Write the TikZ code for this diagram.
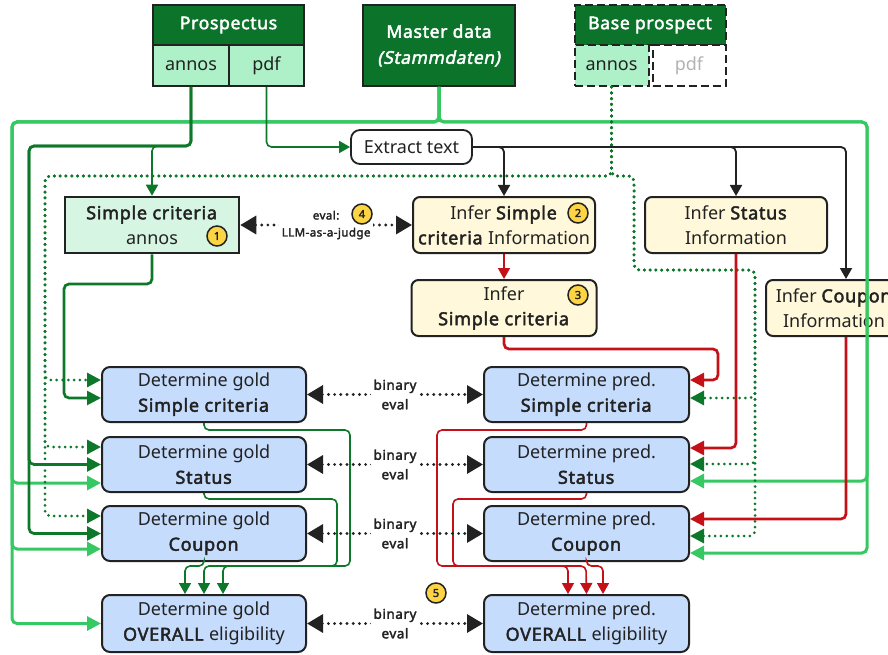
\documentclass[tikz,border=0pt]{standalone}
\usepackage{fontspec}
\setmainfont{Noto Sans}[BoldFont={Noto Sans}, BoldFeatures={FakeBold=2.4, LetterSpace=4}, BoldItalicFont={Noto Sans}, BoldItalicFeatures={FakeBold=2.4, FakeSlant=0.2, LetterSpace=3}]
\usepackage{tikz}
\usetikzlibrary{arrows.meta, calc, positioning}
\definecolor{hdgreen}{RGB}{11,115,42}
\definecolor{cellgreen}{RGB}{174,240,200}
\definecolor{annogreen}{RGB}{214,245,226}
\definecolor{infcream}{RGB}{255,248,218}
\definecolor{detblue}{RGB}{198,220,252}
\definecolor{lnred}{RGB}{196,16,22}
\definecolor{lngreen}{RGB}{14,120,42}
\definecolor{ltgreen}{RGB}{54,200,98}
\definecolor{badgeyel}{RGB}{252,212,68}
\definecolor{edge}{RGB}{34,34,34}
\tikzset{
	base/.style={draw=edge, line width=2pt, align=center, inner sep=0pt, text=edge, font=\fontsize{18}{25}\selectfont},
	hdbox/.style={base, fill=hdgreen, text=white, font=\fontsize{17.5}{26}\selectfont\bfseries},
	cellbox/.style={base, fill=cellgreen, minimum width=75.5pt, minimum height=41pt},
	infbox/.style={base, fill=infcream, rounded corners=7pt, minimum height=56pt},
	detbox/.style={base, fill=detblue, rounded corners=8pt, minimum width=204pt, minimum height=55pt},
	badge/.style={circle, draw=edge, line width=1.5pt, fill=badgeyel, minimum size=20pt, inner sep=0pt, text=edge, font=\fontsize{11}{11}\selectfont\bfseries},
	evlbl/.style={fill=white, align=center, inner xsep=3pt, inner ysep=1pt, text=edge, font=\fontsize{13.5}{19.5}\selectfont\bfseries},
	evline/.style={draw=edge, line width=3.2pt, dash pattern=on 0pt off 6.2pt, line cap=round, arrows={Triangle[length=16pt,width=18pt]-Triangle[length=16pt,width=18pt]}},
	dkline/.style={draw=lngreen, line width=2.7pt, rounded corners=5pt, arrows={-Triangle[length=14pt,width=14pt]}},
	ltline/.style={draw=ltgreen, line width=3pt, rounded corners=5pt, arrows={-Triangle[length=14pt,width=14pt]}},
	dtline/.style={draw=lngreen, line width=3pt, dash pattern=on 0pt off 5.8pt, line cap=round, rounded corners=5pt, arrows={-Triangle[length=14pt,width=14pt]}},
	rdline/.style={draw=lnred, line width=2.7pt, rounded corners=5pt, arrows={-Triangle[length=14pt,width=14pt]}},
	dkthin/.style={draw=lngreen, line width=1.6pt, rounded corners=5pt, arrows={-Triangle[length=11pt,width=12pt]}},
	rdthin/.style={draw=lnred, line width=1.6pt, rounded corners=5pt, arrows={-Triangle[length=11pt,width=12pt]}},
	bkline/.style={draw=edge, line width=1.8pt, rounded corners=5pt, arrows={-Triangle[length=11pt,width=12pt]}}
}

\begin{document}
\begin{tikzpicture}[x=1pt, y=-1pt]
	\useasboundingbox (0,0) rectangle (888,655);
	\node[hdbox, minimum width=151pt, minimum height=40pt] (pr) at (228.5,25) {Prospectus};
	\node[cellbox] (pa) at (191,65.5) {annos};
	\node[cellbox] (pp) at (266.5,65.5) {pdf};
	\node[hdbox, minimum width=152pt, minimum height=81pt] (md) at (439,45.5) {Master data\\\textit{(Stammdaten)}};
	\node[hdbox, dash pattern=on 8pt off 4pt, minimum width=151pt, minimum height=40pt] (bpr) at (650,25) {Base prospect};
	\node[cellbox, dash pattern=on 8pt off 4pt, minimum width=74pt] (ba) at (611.5,65.5) {annos};
	\node[cellbox, dash pattern=on 8pt off 4pt, fill=white, text=black!30, minimum width=73pt] (bp) at (689,65.5) {pdf};

	\node[base, line width=1.8pt, fill=white, rounded corners=9pt, minimum width=121pt, minimum height=34pt] (et) at (411.5,147) {Extract text};
	\node[base, line width=2.5pt, fill=annogreen, minimum width=174pt, minimum height=56pt] (sa) at (152,225) {\textbf{Simple criteria}\\annos};
	\node[infbox, minimum width=182pt] (isi) at (504,225) {Infer \textbf{Simple}\\\textbf{criteria} Information};
	\node[infbox, minimum width=182pt] (ist) at (736,225) {Infer \textbf{Status}\\Information};
	\node[infbox, minimum width=185pt] (isc) at (504,308) {Infer\\\textbf{Simple criteria}};
	\node[infbox, minimum width=136pt] (ico) at (834,308) {Infer \textbf{Coupon}\\Information};

	\node[detbox] (gs) at (204,394.5) {Determine gold\\\textbf{Simple criteria}};
	\node[detbox] (gst) at (204,464.5) {Determine gold\\\textbf{Status}};
	\node[detbox] (gco) at (204,533.5) {Determine gold\\\textbf{Coupon}};
	\node[detbox, minimum height=57pt] (go) at (204,623.5) {Determine gold\\\textbf{OVERALL} eligibility};
	\node[detbox, minimum width=205pt] (ps) at (586.5,394.5) {Determine pred.\\\textbf{Simple criteria}};
	\node[detbox, minimum width=205pt] (pst) at (586.5,464.5) {Determine pred.\\\textbf{Status}};
	\node[detbox, minimum width=205pt] (pco) at (586.5,533.5) {Determine pred.\\\textbf{Coupon}};
	\node[detbox, minimum width=205pt, minimum height=57pt] (po) at (586.5,623.5) {Determine pred.\\\textbf{OVERALL} eligibility};

	\node[badge] (b1) at (217,236) {1};
	\node[badge] (b2) at (578,213) {2};
	\node[badge] (b3) at (578,295) {3};

	\draw[ltline] (md.south) |- (12,122) |- (gst.west |- 0,483);
	\draw[ltline] (md.south) |- (12,122) |- (gco.west |- 0,549);
	\draw[ltline] (md.south) |- (12,122) |- (go.west);
	\draw[ltline] (md.south) |- (867,122) |- (pst.east |- 0,481);
	\draw[ltline] (md.south) |- (867,122) |- (pco.east |- 0,553);

	\draw[dkline] (pa.south) |- (29,146) |- (gst.west);
	\draw[dkline] (pa.south) |- (29,146) |- (gco.west);
	\draw[dkthin] (pa.south) |- (152,146) -- (sa.north);
	\draw[dkline] (sa.south) |- (64,284) |- (gs.west |- 0,398);
	\draw[dkthin] (pp.south) |- (et.west);

	\draw[dtline] (ba.south) |- (45,176) |- (gs.west |- 0,380);
	\draw[dtline] (ba.south) |- (45,176) |- (gst.west |- 0,447);
	\draw[dtline] (ba.south) |- (45,176) |- (gco.west |- 0,516);
	\draw[dtline] (ba.south) |- (634,176) |- (755,270) |- (ps.east |- 0,398);
	\draw[dtline] (ba.south) |- (634,176) |- (755,270) |- (pst.east |- 0,464);
	\draw[dtline] (ba.south) |- (634,176) |- (755,270) |- (pco.east |- 0,536);

	\draw[bkline] (et.east) -| (isi.north);
	\draw[bkline] (et.east) -| (ist.north);
	\draw[bkline] (et.east) -| (ico.north -| 846,0);

	\draw[rdthin] (isi.south) -- (isc.north);
	\draw[rdline] (isc.south) |- (718,349) |- (ps.east |- 0,380);
	\draw[rdline] (ist.south) |- (pst.east |- 0,448);
	\draw[rdline] (ico.south -| 846,0) |- (pco.east |- 0,519);

	\draw[dkthin] (gs.south) |- (350,430) |- (223,566) -- (go.north -| 223,0);
	\draw[dkthin] (gst.south) |- (337,499) |- (204,566) -- (go.north);
	\draw[dkthin] (gco.south) |- (185,566) -- (go.north -| 185,0);
	\draw[rdthin] (ps.south) |- (437,430) |- (568,566) -- (po.north -| 568,0);
	\draw[rdthin] (pst.south) |- (453,499) |- (586,566) -- (po.north);
	\draw[rdthin] (pco.south) |- (603,566) -- (po.north -| 603,0);

	\draw[evline] (sa.east) -- node[evlbl, font=\fontsize{11.5}{17}\selectfont\bfseries] (ej) {eval:\\LLM-as-a-judge} (isi.west);
	\draw[evline] (gs.east) -- node[evlbl] (e1) {binary\\eval} (ps.west);
	\draw[evline] (gst.east) -- node[evlbl] (e2) {binary\\eval} (pst.west);
	\draw[evline] (gco.east) -- node[evlbl] (e3) {binary\\eval} (pco.west);
	\draw[evline] (go.east) -- node[evlbl] (e4) {binary\\eval} (po.west);
	\node[badge] (b4) at (362,214) {4};
	\node[badge] (b5) at (436,593) {5};
\end{tikzpicture}
\end{document}
